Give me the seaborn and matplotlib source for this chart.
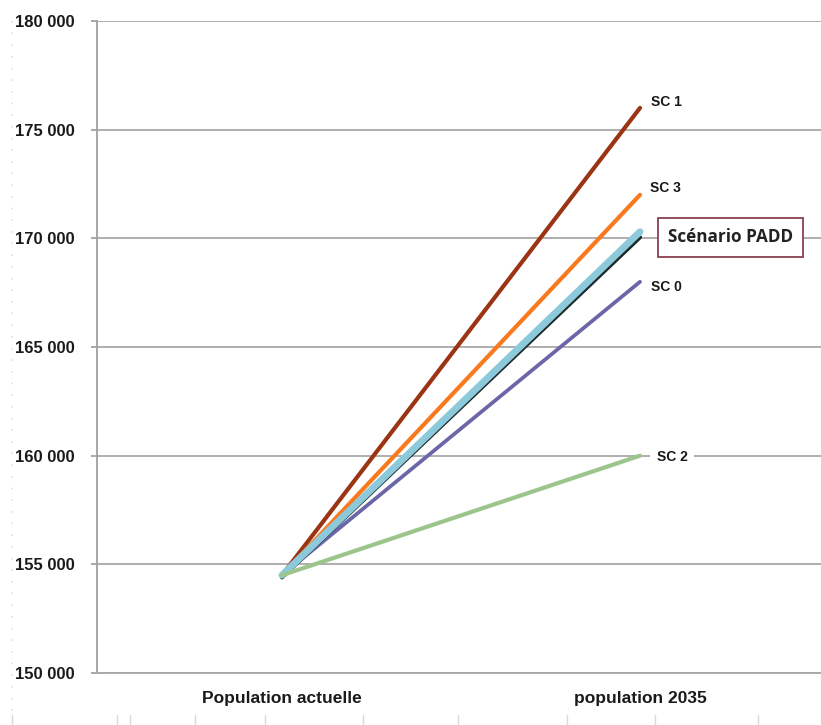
import matplotlib
matplotlib.use("Agg")
import matplotlib.pyplot as plt
import matplotlib.lines as mlines
import seaborn as sns
import pandas as pd

# ---- data ----
categories = ["Population actuelle", "population 2035"]
series_names = ["SC 1", "SC 3", "SC 0", "Tendance", "Scénario PADD", "SC 2"]
start_values = [154500, 154500, 154500, 154400, 154500, 154500]
end_values = [176000, 172000, 168000, 170050, 170300, 160000]
y_ticks = [150000, 155000, 160000, 165000, 170000, 175000, 180000]

colors = {"SC 1": "#9A3412", "SC 3": "#F97A1E", "SC 0": "#6A66A8",
          "Tendance": "#1E2A2A", "Scénario PADD": "#8CC9DA", "SC 2": "#9CC58C"}
widths = {"SC 1": 3.0, "SC 3": 3.0, "SC 0": 2.7, "Tendance": 3.0,
          "Scénario PADD": 5.0, "SC 2": 3.0}

rows = []
for name, s, e in zip(series_names, start_values, end_values):
    rows.append({"cat": 0, "value": s, "serie": name})
    rows.append({"cat": 1, "value": e, "serie": name})
df = pd.DataFrame(rows)

sns.set_style("white")
plt.rcParams["font.family"] = ["Liberation Sans", "DejaVu Sans"]

fig = plt.figure(figsize=(8.21, 7.25), dpi=100)
ax = fig.add_axes([97 / 821, 1 - 673 / 725, 1 - 97 / 821, (673 - 21) / 725])

for name in series_names:
    sub = df[df["serie"] == name]
    sns.lineplot(data=sub, x="cat", y="value", ax=ax, color=colors[name],
                 linewidth=widths[name], solid_capstyle="round", legend=False)

ax.set_xlim(-0.5168, 1.5056)
ax.set_ylim(150000, 180000)
ax.set_yticks(y_ticks)
ax.set_yticklabels([f"{v:,}".replace(",", " ") for v in y_ticks],
                   fontsize=12, fontweight="bold", color="#1a1a1a")
ax.set_xticks([0, 1])
ax.set_xticklabels(categories, fontsize=12.5, fontweight="bold", color="#1a1a1a")
ax.set_xticks([0.5, 1.5], minor=True)
ax.tick_params(axis="x", which="major", length=0, pad=13)
ax.tick_params(axis="x", which="minor", length=5, color="#9a9a9a", width=1.2)
ax.tick_params(axis="y", length=4, color="#9a9a9a", width=1.2, pad=12, left=True)
ax.set_xlabel("")
ax.set_ylabel("")
ax.grid(axis="y", color="#a8a8a8", linewidth=1.3, zorder=0)
ax.set_axisbelow(True)
for side in ["top", "right"]:
    ax.spines[side].set_visible(False)
ax.spines["left"].set_color("#a0a0a0")
ax.spines["left"].set_linewidth(1.3)
ax.spines["bottom"].set_color("#a8a8a8")
ax.spines["bottom"].set_linewidth(1.3)

# ---- labels ----
lab_kw = dict(fontsize=10, fontweight="bold", color="#1a1a1a", va="center",
              ha="left", textcoords="offset points", annotation_clip=False)
ax.annotate("SC 1", xy=(1, end_values[0]), xytext=(8, 4), **lab_kw)
ax.annotate("SC 3", xy=(1, end_values[1]), xytext=(7, 5), **lab_kw)
ax.annotate("SC 0", xy=(1, end_values[2]), xytext=(8, -4), **lab_kw)
ax.annotate("SC 2", xy=(1, end_values[5]), xytext=(12, -1),
            bbox=dict(boxstyle="square,pad=0.45", fc="white", ec="none"), **lab_kw)
ax.annotate("Scénario PADD", xy=(1, end_values[4]), xytext=(20, -4),
            textcoords="offset points", fontsize=12.3, fontweight="bold",
            family=["Open Sans", "DejaVu Sans"], color="#222222",
            va="center", ha="left", annotation_clip=False,
            bbox=dict(boxstyle="square,pad=0.6", fc="white", ec="#8a4050", lw=1.3))

# faint artefacts of the scanned page
fig.add_artist(mlines.Line2D([12 / 821, 12 / 821], [0.02, 0.98], color="#e2e2e2",
                             linestyle=(0, (1, 6)), linewidth=1.2))
for px in [12, 117, 130, 195, 265, 363, 458, 567, 655, 758]:
    fig.add_artist(mlines.Line2D([px / 821, px / 821], [0, 10 / 725],
                                 color="#d8d8d8", linewidth=1.0))

fig.savefig("out.png", dpi=100)
